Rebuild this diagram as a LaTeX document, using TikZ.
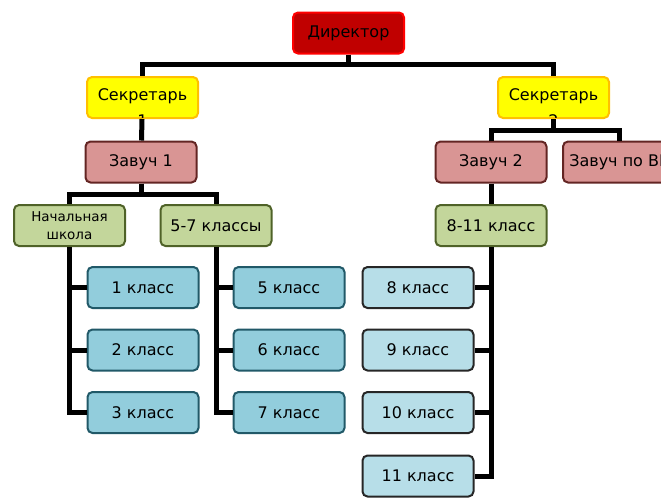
\documentclass[tikz,border=0pt]{standalone}
\usepackage{fontspec}
\setmainfont{DejaVu Sans}
\definecolor{dirfill}{HTML}{C00000}
\definecolor{dirline}{HTML}{FF0000}
\definecolor{secfill}{HTML}{FFFF00}
\definecolor{secline}{HTML}{FFC000}
\definecolor{zavfill}{HTML}{D99594}
\definecolor{zavline}{HTML}{632523}
\definecolor{grnfill}{HTML}{C3D69B}
\definecolor{grnline}{HTML}{4F6228}
\definecolor{blufill}{HTML}{92CDDC}
\definecolor{bluline}{HTML}{215968}
\definecolor{ltbfill}{HTML}{B7DEE8}
\definecolor{ltbline}{HTML}{262626}
\usetikzlibrary{positioning}

\begin{document}
\begin{tikzpicture}[
    x=1pt, y=-1pt,
    every node/.style={font=\fontsize{16}{19}\selectfont, align=center},
    box/.style={rounded corners=5pt, line width=2pt, minimum width=111pt,
                minimum height=41pt, inner sep=2pt},
    conn/.style={line width=5pt, black}
  ]
    \clip (0,0) rectangle (661,499);
    \useasboundingbox (0,0) rectangle (661,499);

    % top levels
    \node[box, fill=dirfill, draw=dirline] (dir) at (348.5,33) {Директор};
    \node[box, fill=secfill, draw=secline] (sec1) at (142.5,97.5) {};
    \node[box, fill=secfill, draw=secline] (sec2) at (553.5,97.5) {};
    \node[box, fill=zavfill, draw=zavline] (zav1) at (141,162) {Завуч 1};
    \node[box, fill=zavfill, draw=zavline] (zav2) at (491,162) {Завуч 2};
    \node[box, fill=zavfill, draw=zavline, minimum width=112pt] (zavvr) at (619,162) {Завуч по ВР};

    % secretary labels, cut by the box
    \begin{scope}
      \clip ([shift={(2pt,2pt)}]sec1.south west) rectangle ([shift={(-2pt,-2pt)}]sec1.north east);
      \node[font=\fontsize{16}{26}\selectfont] (sec1lbl) at ([yshift=-10pt]sec1.center) {Секретарь\\1};
    \end{scope}
    \begin{scope}
      \clip ([shift={(2pt,2pt)}]sec2.south west) rectangle ([shift={(-2pt,-2pt)}]sec2.north east);
      \node[font=\fontsize{16}{26}\selectfont] (sec2lbl) at ([yshift=-10pt]sec2.center) {Секретарь\\2};
    \end{scope}

    % school stages
    \node[box, fill=grnfill, draw=grnline, font=\fontsize{13.5}{18}\selectfont] (nach) at (69.5,225.5) {Начальная\\школа};
    \node[box, fill=grnfill, draw=grnline] (k57) at (216,225.5) {5-7 классы};
    \node[box, fill=grnfill, draw=grnline] (k811) at (491,225.5) {8-11 класс};

    % classes
    \node[box, fill=blufill, draw=bluline] (c1) at (143,287.5) {1 класс};
    \node[box, fill=blufill, draw=bluline] (c2) at (143,350) {2 класс};
    \node[box, fill=blufill, draw=bluline] (c3) at (143,412.5) {3 класс};
    \node[box, fill=blufill, draw=bluline] (c5) at (289,287.5) {5 класс};
    \node[box, fill=blufill, draw=bluline] (c6) at (289,350) {6 класс};
    \node[box, fill=blufill, draw=bluline] (c7) at (289,412.5) {7 класс};
    \node[box, fill=ltbfill, draw=ltbline] (c8) at (418,287.5) {8 класс};
    \node[box, fill=ltbfill, draw=ltbline] (c9) at (418,350) {9 класс};
    \node[box, fill=ltbfill, draw=ltbline] (c10) at (418,412.5) {10 класс};
    \node[box, fill=ltbfill, draw=ltbline] (c11) at (418,476) {11 класс};

    % connectors
    \draw[conn] (dir.south) -- ++(0,10) -| (sec1.north);
    \draw[conn] (dir.south) -- ++(0,10) -| (sec2.north);
    \draw[conn] (sec1) -- (zav1);
    \draw[conn] (sec2.south) -- ++(0,11) -| (zav2.north);
    \draw[conn] (sec2.south) -- ++(0,11) -| (zavvr.north);
    \draw[conn] (zav1.south) -- ++(0,11) -| (nach.north);
    \draw[conn] (zav1.south) -- ++(0,11) -| (k57.north);
    \draw[conn] (zav2) -- (k811);
    \foreach \c in {c1,c2,c3}
      \draw[conn] (nach.south) |- (\c.west);
    \foreach \c in {c5,c6,c7}
      \draw[conn] (k57.south) |- (\c.west);
    \foreach \c in {c8,c9,c10,c11}
      \draw[conn] (k811.south) |- (\c.east);
  \end{tikzpicture}
\end{document}
